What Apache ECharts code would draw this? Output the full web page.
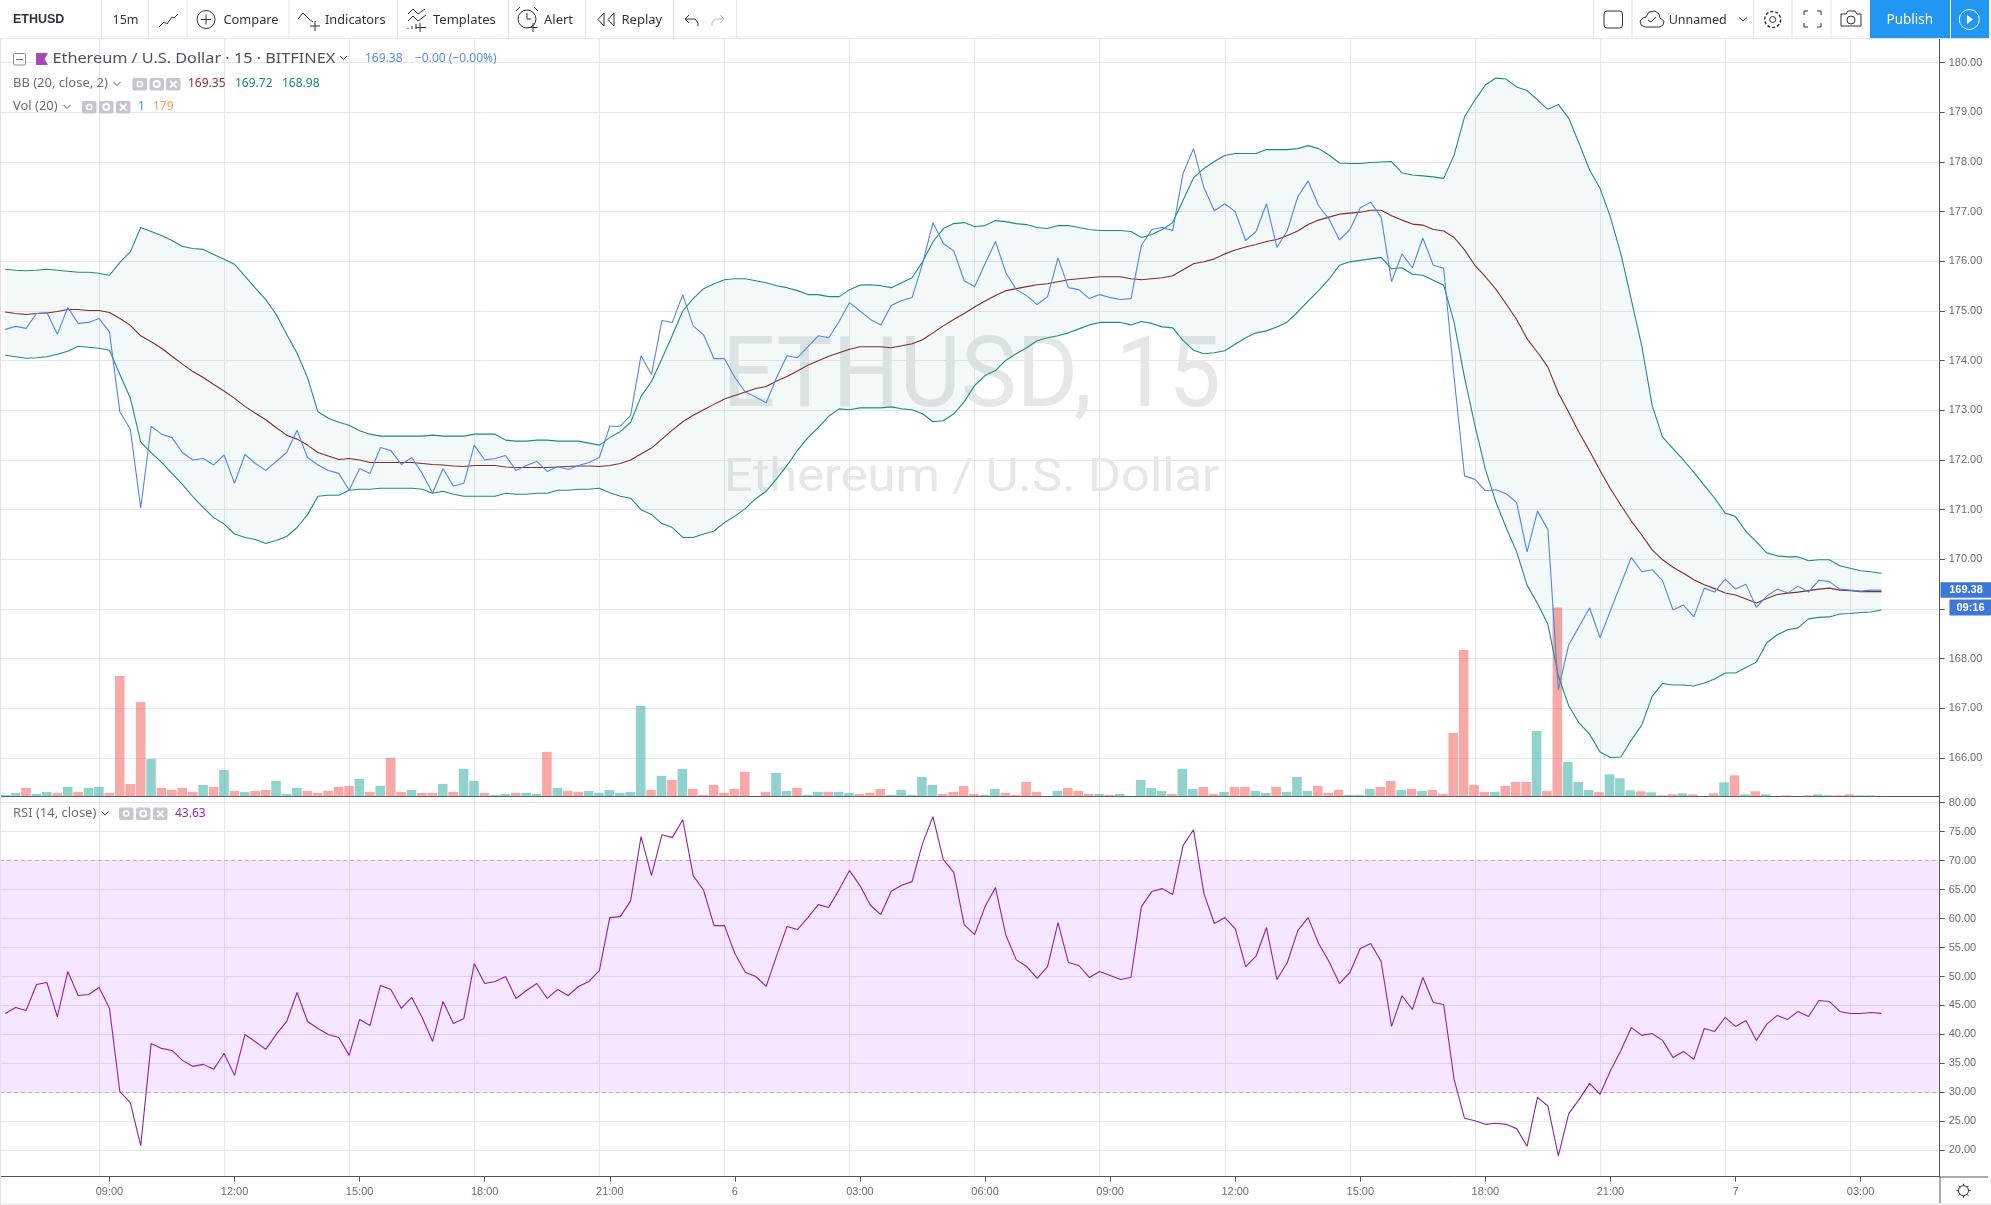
<!DOCTYPE html>
<html><head><meta charset="utf-8">
<style>html,body{margin:0;padding:0;background:#fff}#c{width:1991px;height:1205px}</style>
<script src="https://cdn.jsdelivr.net/npm/echarts@6/dist/echarts.min.js"></script>
</head><body><div id="c"></div>
<script>
const close = [174.63,174.69,174.65,174.95,174.97,174.53,175.07,174.75,174.77,174.85,
174.58,172.97,172.62,171.03,172.68,172.52,172.45,172.15,172.00,172.03,
171.90,172.10,171.53,172.11,171.93,171.79,171.97,172.15,172.60,172.05,
171.90,171.79,171.73,171.39,171.83,171.73,172.25,172.19,171.91,172.05,
171.73,171.33,171.83,171.47,171.53,172.30,172.00,172.03,172.09,171.79,
171.89,171.97,171.77,171.87,171.81,171.89,171.95,172.05,172.68,172.68,
172.90,174.10,173.72,174.81,174.77,175.33,174.70,174.52,174.04,174.04,
173.66,173.37,173.27,173.15,173.66,174.10,174.06,174.28,174.50,174.46,
174.79,175.17,175.00,174.83,174.72,175.11,175.21,175.27,175.95,176.78,
176.36,176.21,175.61,175.49,175.95,176.40,175.77,175.43,175.31,175.13,
175.29,176.07,175.47,175.43,175.25,175.33,175.27,175.23,175.25,176.32,
176.64,176.68,176.62,177.77,178.27,177.48,177.02,177.16,177.00,176.42,
176.60,177.16,176.28,176.62,177.30,177.62,177.12,176.85,176.43,176.64,
177.08,177.19,176.89,175.59,176.15,175.87,176.47,175.92,175.86,173.66,
171.68,171.61,171.38,171.40,171.32,171.14,170.15,170.97,170.60,167.37,
168.28,168.65,169.02,168.42,168.97,169.50,170.04,169.75,169.79,169.57,
168.98,169.08,168.84,169.42,169.34,169.60,169.40,169.50,169.03,169.26,
169.40,169.32,169.46,169.34,169.58,169.55,169.40,169.38,169.36,169.38,
169.38];
const basis = [174.98,174.95,174.93,174.95,174.96,174.99,175.03,175.03,175.01,175.01,
174.97,174.85,174.71,174.50,174.38,174.25,174.09,173.93,173.78,173.66,
173.52,173.39,173.24,173.08,172.94,172.81,172.65,172.50,172.42,172.30,
172.15,172.08,172.01,172.03,172.00,171.95,171.95,171.95,171.95,171.95,
171.93,171.91,171.90,171.88,171.87,171.89,171.89,171.89,171.86,171.85,
171.85,171.85,171.85,171.86,171.87,171.88,171.88,171.87,171.89,171.93,
172.00,172.12,172.24,172.42,172.60,172.77,172.90,173.01,173.12,173.23,
173.30,173.37,173.44,173.48,173.59,173.68,173.79,173.91,174.00,174.09,
174.16,174.23,174.28,174.28,174.28,174.26,174.30,174.34,174.42,174.56,
174.70,174.83,174.95,175.08,175.20,175.31,175.41,175.45,175.49,175.53,
175.55,175.59,175.63,175.65,175.67,175.69,175.69,175.69,175.65,175.63,
175.65,175.67,175.71,175.83,175.95,175.99,176.05,176.15,176.23,176.29,
176.34,176.40,176.44,176.52,176.61,176.74,176.83,176.89,176.95,176.97,
176.99,177.03,177.03,176.92,176.83,176.75,176.73,176.64,176.61,176.48,
176.23,175.92,175.69,175.44,175.14,174.83,174.44,174.17,173.87,173.35,
172.96,172.55,172.18,171.79,171.42,171.09,170.77,170.49,170.19,169.99,
169.84,169.72,169.59,169.49,169.41,169.32,169.28,169.20,169.12,169.21,
169.29,169.32,169.34,169.37,169.40,169.42,169.38,169.37,169.35,169.35,
169.35];
const upperBand = [175.84,175.82,175.81,175.82,175.84,175.82,175.80,175.78,175.78,175.76,
175.72,175.98,176.19,176.68,176.60,176.52,176.42,176.30,176.26,176.24,
176.14,176.04,175.94,175.70,175.46,175.23,174.93,174.53,174.15,173.66,
172.97,172.84,172.76,172.70,172.59,172.52,172.48,172.48,172.48,172.48,
172.48,172.50,172.48,172.48,172.48,172.52,172.52,172.52,172.40,172.38,
172.38,172.40,172.40,172.38,172.38,172.38,172.34,172.30,172.45,172.57,
172.76,173.28,173.58,174.04,174.51,175.00,175.25,175.45,175.55,175.63,
175.65,175.65,175.61,175.57,175.51,175.47,175.41,175.33,175.33,175.29,
175.29,175.43,175.52,175.53,175.51,175.47,175.57,175.67,175.99,176.39,
176.66,176.76,176.78,176.70,176.72,176.82,176.80,176.76,176.74,176.68,
176.66,176.72,176.72,176.68,176.64,176.62,176.62,176.62,176.60,176.48,
176.54,176.64,176.78,177.23,177.68,177.87,178.01,178.13,178.17,178.17,
178.17,178.25,178.25,178.25,178.27,178.33,178.27,178.14,177.98,177.97,
177.97,177.99,178.00,178.01,177.78,177.74,177.72,177.70,177.67,178.14,
178.91,179.25,179.55,179.69,179.67,179.51,179.44,179.25,179.06,179.16,
178.88,178.37,177.84,177.47,176.89,176.15,175.23,174.30,173.10,172.46,
172.23,172.00,171.75,171.49,171.23,170.93,170.86,170.56,170.35,170.13,
170.07,170.05,170.05,169.97,169.99,169.99,169.87,169.82,169.77,169.75,
169.72];
const lowerBand = [174.11,174.08,174.05,174.06,174.08,174.13,174.19,174.29,174.27,174.25,
174.21,173.72,173.25,172.36,172.15,171.95,171.73,171.51,171.26,171.04,
170.84,170.71,170.51,170.44,170.40,170.32,170.38,170.46,170.64,170.90,
171.27,171.29,171.29,171.39,171.41,171.41,171.43,171.43,171.43,171.43,
171.41,171.33,171.37,171.31,171.27,171.27,171.27,171.27,171.33,171.31,
171.31,171.33,171.33,171.39,171.39,171.41,171.41,171.43,171.34,171.27,
171.23,171.00,170.90,170.72,170.64,170.44,170.44,170.51,170.57,170.74,
170.87,171.02,171.22,171.37,171.62,171.89,172.19,172.45,172.65,172.88,
173.03,173.01,173.05,173.05,173.05,173.07,173.03,173.01,172.93,172.77,
172.79,172.93,173.17,173.50,173.70,173.80,174.01,174.14,174.26,174.40,
174.46,174.50,174.56,174.64,174.72,174.77,174.77,174.77,174.72,174.79,
174.75,174.68,174.66,174.41,174.21,174.14,174.16,174.20,174.33,174.46,
174.56,174.60,174.68,174.78,174.98,175.20,175.41,175.64,175.92,175.99,
176.02,176.05,176.08,175.85,175.87,175.74,175.72,175.62,175.52,174.77,
173.66,172.69,171.81,171.16,170.63,170.15,169.48,169.11,168.69,167.65,
167.05,166.70,166.48,166.12,166.01,166.02,166.36,166.66,167.24,167.50,
167.47,167.47,167.45,167.51,167.59,167.71,167.71,167.82,167.93,168.32,
168.48,168.58,168.62,168.80,168.83,168.84,168.90,168.91,168.93,168.94,
168.98];
const rsi = [43.6,44.66,44.14,48.62,48.97,43.05,50.86,46.72,46.9,48.1,
44.54,30.11,28.22,20.8,38.45,37.59,37.24,35.52,34.48,34.83,
33.97,36.72,32.93,40.0,38.74,37.41,40.0,42.24,47.24,42.24,
41.03,40.0,39.48,36.38,42.59,41.55,48.45,47.76,44.48,46.38,
42.93,38.79,45.69,41.9,42.76,52.24,48.79,49.14,50.0,46.21,
47.59,48.79,46.21,47.76,46.72,48.28,49.14,51.03,60.17,60.34,
63.05,74.14,67.41,74.48,73.97,77.07,67.41,64.89,58.79,58.79,
53.97,50.75,50.0,48.28,53.56,58.62,58.1,60.17,62.41,61.9,
65.0,68.28,65.69,62.3,60.69,64.71,65.75,66.38,72.93,77.59,
70.17,67.99,58.97,57.24,62.07,65.34,57.13,52.87,51.72,49.66,
51.72,59.31,52.41,51.9,49.83,50.86,50.17,49.48,49.83,62.07,
64.66,65.17,64.14,72.59,75.34,64.31,59.14,60.17,58.28,51.72,
53.5,58.45,49.48,52.41,57.93,60.17,55.69,52.59,48.79,50.69,
54.83,55.69,52.59,41.38,46.67,44.31,49.83,45.52,45.17,32.24,
25.52,25.11,24.48,24.66,24.48,23.74,20.69,29.14,27.64,19.02,
26.32,28.79,31.55,29.66,33.74,37.24,41.21,39.83,40.17,38.97,
36.03,37.07,35.69,41.03,40.52,42.93,41.38,42.41,38.97,41.78,
43.28,42.59,43.97,43.1,45.86,45.69,43.97,43.62,43.62,43.79,
43.63];
const volume = [1.7,3.7,8.7,2.7,4.7,3.7,9.7,4.7,8.7,9.7,
3.7,120.7,12.7,94.7,37.7,8.7,6.7,8.7,4.7,11.7,
9.7,26.7,5.7,4.7,5.7,6.7,15.7,2.7,8.7,5.7,
3.7,5.7,9.7,10.7,17.7,4.7,10.7,38.7,4.7,6.7,
3.7,3.7,12.7,4.7,27.7,15.7,3.7,1.7,2.7,3.7,
3.7,2.7,44.7,8.7,5.7,4.7,5.7,3.7,6.7,3.7,
4.7,90.7,6.7,20.7,16.7,27.7,7.7,1.7,11.7,3.7,
7.7,24.7,0,4.7,23.7,5.7,8.7,1.7,4.7,4.7,
4.7,3.7,2.7,3.7,7.7,1.7,6.7,1.7,19.7,11.7,
2.7,4.7,10.7,2.7,1.7,7.7,3.7,1.7,14.7,4.7,
0,5.7,8.7,5.7,2.7,2.7,1.7,2.7,0,16.7,
8.7,5.7,2.7,27.7,7.7,9.7,2.7,4.7,9.7,9.7,
5.7,3.7,9.7,4.7,19.7,5.7,10.7,3.7,6.7,1.7,
1.7,7.7,9.7,15.7,6.7,7.7,5.7,6.7,2.7,63.7,
146.6,11.7,4.7,4.7,10.7,14.7,14.7,65.7,5.7,189,
34.7,14.7,6.5,4.5,22.3,18.3,6.3,5.3,4.3,1.3,
2.3,3.3,2.3,0,3.3,14.3,21.3,2.3,5.3,2.3,
0,1.3,0,1.3,2.3,1.3,1.3,2.3,1.3,1.3,
0.4];
const volumeUp = [1,1,0,1,1,0,1,0,1,1,
0,0,0,0,1,0,0,0,0,1,
0,1,0,1,0,0,1,1,1,0,
0,0,0,0,1,0,1,0,0,1,
0,0,1,0,1,1,0,1,1,0,
1,1,0,1,0,0,1,1,1,1,
1,1,0,1,0,1,0,0,0,0,
0,0,0,0,1,1,0,1,1,0,
1,1,0,0,0,1,1,1,1,1,
0,0,0,0,1,1,0,0,0,0,
0,1,0,0,0,1,0,1,0,1,
1,1,0,1,1,0,0,1,0,0,
1,1,0,1,1,1,0,0,0,1,
1,1,0,0,1,0,1,0,0,0,
0,0,0,1,0,0,0,1,0,0,
1,1,1,0,1,1,1,0,1,0,
0,1,0,0,0,1,0,1,0,1,
0,0,0,0,1,1,0,0,1,1,
1];
const tickIndexes = [10,22,34,46,58,70,82,94,106,118,130,142,154,166,178];
const tickLabels = ['09:00','12:00','15:00','18:00','21:00','6','03:00','06:00','09:00','12:00','15:00','18:00','21:00','7','03:00'];
const barCount = 186;
const categories = Array.from({length: barCount}, (_, i) => {
  const k = tickIndexes.indexOf(i);
  return k >= 0 ? tickLabels[k] : 'bar' + i;
});
const priceTicks = [166,167,168,169,170,171,172,173,174,175,176,177,178,179,180];
const rsiTicks = [20,25,30,35,40,45,50,55,60,65,70,75,80];

const FONT = '"Liberation Sans"', UI = '"Noto Sans"';
const GRID = '#e6e7ec', AXIS = '#53565f', LABEL = '#6a6d76';

const els = [];
function T(x, y, s, size, fill, o) {
  els.push(Object.assign({type:'text', z:50, silent:true, x, y,
    style:{text:s, font:(o&&o.weight||'normal')+' '+size+'px '+(o&&o.family||UI), fill,
      textAlign:(o&&o.align)||'left', textVerticalAlign:'middle', verticalAlign:'middle'}}, o&&o.sx?{scaleX:o.sx}:{}));
}
function R(x, y, w, h, st, o) {
  els.push(Object.assign({type:'rect', z:(o&&o.z)||40, silent:true, shape:{x,y,width:w,height:h,r:(o&&o.r)||0}, style:st}));
}
function L(pts, stroke, w) {
  els.push({type:'polyline', z:45, silent:true, shape:{points:pts}, style:{fill:null, stroke, lineWidth:w||1}});
}
function C(cx, cy, r, st) { els.push({type:'circle', z:45, silent:true, shape:{cx,cy,r}, style:st}); }

// toolbar
R(0,0,1991,38,{fill:'#fff'},{z:30});
L([[0,38.5],[1991,38.5]],'#e2e3ea');
[101.5,148.5,187,289,397.5,508.7,585.7,673.5,736.7,1593.7,1632,1753.7,1792,1831].forEach(x=>L([[x,0],[x,38]],'#e2e3ea'));
L([[0.5,38],[0.5,1205]],'#e2e3ea');
L([[0,1204],[1991,1204]],'#e2e3ea');
const TB = '#2f3241';
T(13,20,'ETHUSD',12.5,TB,{weight:'bold',family:FONT});
T(112.5,20,'15m',12.5,TB);
L([[159,27],[164,22],[167,24],[172,17],[174,18],[178,14]],TB);
C(206,19.5,9,{fill:null,stroke:TB,lineWidth:1});L([[201,19.5],[211,19.5]],TB);L([[206,14.5],[206,24.5]],TB);
T(223.5,20,'Compare',12.8,TB);
L([[298,19],[303,13],[309,19],[313,22]],TB);L([[315,21],[315,31]],TB);L([[310,26],[320,26]],TB);
T(325,20,'Indicators',12.8,TB);
L([[408,14],[413,9],[418,14],[425,9]],TB);L([[408,21],[413,16],[418,21],[426,15]],TB);
L([[408,29],[408,28]],TB);L([[412,29],[412,26]],TB);L([[416,29],[416,24]],TB);L([[420,23],[420,32]],TB);L([[415.5,27.5],[426,27.5]],TB);
T(433,20,'Templates',13,TB);
C(527,19,9,{fill:null,stroke:TB,lineWidth:1});L([[527,13],[527,19],[531,19]],TB);L([[520,7],[516,11]],TB);L([[534,7],[538,11]],TB);L([[533,23],[533,32]],TB);L([[528.5,27.5],[537.5,27.5]],TB);
T(544,20,'Alert',13,TB);
L([[604,13],[598,19.5],[604,26],[604,13]],TB);L([[614,13],[608,19.5],[614,26],[614,13]],TB);
T(621.5,20,'Replay',13,TB);
L([[689,15],[685,19],[689,23]],TB);L([[685,19],[695,19],[698,23],[698,26]],TB);
L([[720,15],[724,19],[720,23]],'#b9bac2');L([[724,19],[715,19],[712,23],[712,26]],'#b9bac2');
R(1604,11,18.5,17,{fill:null,stroke:TB,lineWidth:1},{r:3,z:45});
L([[1645,27],[1641,25],[1640,21],[1643,18],[1646,17],[1649,12],[1655,11],[1659,14],[1660,18],[1664,21],[1663,25],[1660,27],[1645,27]],TB);
L([[1648,20],[1651,22],[1656,17]],TB);
T(1668.7,20,'Unnamed',12.5,TB);
L([[1739,17.5],[1743,21],[1747,17.5]],TB);
C(1772.7,19.5,3,{fill:null,stroke:TB,lineWidth:1});C(1772.7,19.5,8,{fill:null,stroke:TB,lineWidth:1.5,lineDash:[3,2]});
L([[1804,15],[1804,11],[1808,11]],TB);L([[1817,11],[1821,11],[1821,15]],TB);L([[1804,23],[1804,27],[1808,27]],TB);L([[1817,27],[1821,27],[1821,23]],TB);
L([[1841,14],[1846,14],[1848,11],[1855,11],[1857,14],[1861,14],[1861,26],[1841,26],[1841,14]],TB);C(1851,20,4,{fill:null,stroke:TB,lineWidth:1});
R(1870,0,119,38,{fill:'#2196f3'},{z:40});
L([[1950.5,0],[1950.5,38]],'#ffffff');
T(1886.5,20,'Publish',13.5,'#ffffff');
C(1969.3,19.5,10,{fill:null,stroke:'#fff',lineWidth:1});
els.push({type:'polygon',z:45,silent:true,shape:{points:[[1967,15],[1967,24],[1973,19.5]]},style:{fill:'#fff'}});

// legend
function Boxes(xs, y) {
  xs.forEach((x,k)=>{
    R(x,y-6,14.5,12.5,{fill:'#c5c6d0'},{r:2,z:45});
    if(k<2) C(x+7.2,y,k?3:2.6,{fill:null,stroke:'#fff',lineWidth:k?2:1.5});
    else { L([[x+4,y-3],[x+10.5,y+3.5]],'#fff',1.8); L([[x+10.5,y-3],[x+4,y+3.5]],'#fff',1.8); }
  });
}
function Chev(x,y){ L([[x,y-2],[x+3.5,y+1.5],[x+7,y-2]],'#4c525e'); }
const LG = '#6c6f7a';
R(13.5,53.5,12,11.5,{fill:'#fff',stroke:'#8a8d96',lineWidth:1},{r:1,z:45});L([[16,59.5],[23,59.5]],'#6c6f7a');
els.push({type:'polygon',z:45,silent:true,shape:{points:[[36,53],[48,53],[44.5,59],[48,65],[36,65]]},style:{fill:'#ab47bc'}});
T(52.5,59,'Ethereum / U.S. Dollar · 15 · BITFINEX',14,'#4c525e',{sx:1.16});
Chev(340,58);
T(365,59,'169.38',12,'#5b8fe3');T(415,59,'−0.00 (−0.00%)',12,'#5b8fe3');
T(13,84,'BB (20, close, 2)',12,LG,{sx:1.08});Chev(113.5,84);Boxes([132.5,149.5,166],84);
T(188,84,'169.35',12,'#8d3030');T(235,84,'169.72',12,'#178a80');T(282,84,'168.98',12,'#178a80');
T(13,107,'Vol (20)',12,LG,{sx:1.08});Chev(63.5,107);Boxes([82,99,116],107);
T(138,107,'1',12,'#26a69a');T(153,107,'179',12,'#ff9a4d');
T(13,813.5,'RSI (14, close)',12,LG,{sx:1.08});Chev(101.5,813.5);Boxes([119,136,153],813.5);
T(175,813.5,'43.63',12,'#9c27b0');

// lower right corner
L([[1940,1177],[1940,1203]],AXIS);
L([[1940,1177],[1988,1177]],AXIS);
C(1963.5,1190.7,5,{fill:null,stroke:TB,lineWidth:1});
[[0,-7,0,-5],[0,5,0,7],[-7,0,-5,0],[5,0,7,0],[-5,-5,-3.5,-3.5],[3.5,3.5,5,5],[-5,5,-3.5,3.5],[3.5,-3.5,5,-5]].forEach(p=>L([[1963.5+p[0],1190.7+p[1]],[1963.5+p[2],1190.7+p[3]]],TB));

// watermarks
els.push({type:'text',z:-1,silent:true,x:722,y:381,scaleX:0.96,style:{text:'ETHUSD, 15',font:'98px Roboto',fill:'#e6e7e8',textVerticalAlign:'middle',verticalAlign:'middle'}});
els.push({type:'text',z:-1,silent:true,x:724,y:479,scaleX:1.1,style:{text:'Ethereum / U.S. Dollar',font:'46px Roboto',fill:'#e6e7e8',textVerticalAlign:'middle',verticalAlign:'middle'}});

const isTick = i => tickIndexes.includes(i);
const xBase = {type:'category', data:categories, boundaryGap:true,
  axisLine:{show:true, onZero:false, lineStyle:{color:AXIS,width:1}},
  splitLine:{show:true, alignWithLabel:true, interval:(i)=>isTick(i+1), lineStyle:{color:GRID,width:1}},
  splitArea:{show:false}};
const yBase = {type:'value', position:'right', scale:true, offset:0.9,
  axisLine:{show:true,onZero:false,lineStyle:{color:AXIS,width:1}},
  splitLine:{show:true,lineStyle:{color:GRID,width:1}}};

const line = (name,data,color,xi,yi,extra)=>Object.assign({type:'line',name,data,xAxisIndex:xi,yAxisIndex:yi,
  symbol:'none',showSymbol:false,smooth:false,silent:true,lineStyle:{color,width:1.1},itemStyle:{color},z:5},extra||{});

const option = {
  animation:false, backgroundColor:'#ffffff', textStyle:{fontFamily:FONT},
  grid:[{left:-0.8,top:38.5,width:1939.6,height:758.1},
        {left:-0.8,top:797.5,width:1939.6,height:379.2},
        {left:-2.0,top:38.5,width:1939.6,height:758.1}],
  xAxis:[
    Object.assign({},xBase,{gridIndex:0,axisLabel:{show:false},axisTick:{show:false}}),
    Object.assign({},xBase,{gridIndex:1,
      axisTick:{show:true,alignWithLabel:true,interval:(i)=>isTick(i),length:5,lineStyle:{color:AXIS}},
      axisLabel:{show:true,interval:(i)=>isTick(i),color:LABEL,fontSize:11,fontFamily:FONT,margin:10}}),
    {type:'category',data:categories,gridIndex:2,show:false,boundaryGap:true}
  ],
  yAxis:[
    Object.assign({},yBase,{gridIndex:0,min:165.222,max:180.487,
      axisTick:{show:true,length:5,lineStyle:{color:AXIS},customValues:priceTicks},
      axisLabel:{show:true,customValues:priceTicks,color:LABEL,fontSize:11,fontFamily:FONT,margin:9,formatter:v=>Number(v).toFixed(2)}}),
    Object.assign({},yBase,{gridIndex:1,min:15.44,max:80.9,
      axisTick:{show:true,length:5,lineStyle:{color:AXIS},customValues:rsiTicks},
      axisLabel:{show:true,customValues:rsiTicks,color:LABEL,fontSize:11,fontFamily:FONT,margin:9,formatter:v=>Number(v).toFixed(2)}}),
    {type:'value',gridIndex:2,show:false,min:0,max:758,splitLine:{show:false}}
  ],
  series:[
    {type:'bar',name:'Volume',xAxisIndex:2,yAxisIndex:2,barWidth:9.6,silent:true,z:2,
     data:volume.map((v,i)=>({value:v,itemStyle:{color:volumeUp[i]?'rgba(38,166,154,0.5)':'rgba(239,83,80,0.5)'}}))},
    {type:'custom',name:'BB band',xAxisIndex:0,yAxisIndex:0,silent:true,z:3,
     data:upperBand.map((u,i)=>[i,u,lowerBand[i]]),encode:{x:0,y:[1,2]},
     renderItem:(params,api)=>{
       if(params.dataIndex!==0) return null;
       const top=upperBand.map((u,i)=>api.coord([i,u]));
       const bot=lowerBand.map((l,i)=>api.coord([i,l])).reverse();
       return {type:'polygon',shape:{points:top.concat(bot)},style:{fill:'rgba(0,137,123,0.05)'}};
     }},
    line('BB upper',upperBand,'#1f8c83',0,0),
    line('BB lower',lowerBand,'#1f8c83',0,0),
    line('BB basis',basis,'#842b2b',0,0),
    line('Close',close,'#4f88e8',0,0,{z:6,markPoint:{silent:true,animation:false,data:[
      {coord:[180,169.38],symbol:'rect',symbolSize:[51,15.5],symbolOffset:[84.5,0],itemStyle:{color:'#3d78d8'},
       label:{show:true,position:'inside',formatter:'169.38',color:'#fff',fontWeight:'bold',fontSize:11,fontFamily:FONT}},
      {coord:[180,169.38],symbol:'rect',symbolSize:[42,16],symbolOffset:[89,17.5],itemStyle:{color:'#3d78d8'},
       label:{show:true,position:'inside',formatter:'09:16',color:'#fff',fontWeight:'bold',fontSize:11,fontFamily:FONT}}
    ]}}),
    line('RSI',rsi,'#9320a8',1,1,{
      markArea:{silent:true,itemStyle:{color:'rgba(153,21,255,0.1)'},data:[[{yAxis:70},{yAxis:30}]]},
      markLine:{silent:true,symbol:'none',label:{show:false},animation:false,
        lineStyle:{color:'#c0b2c8',type:[4,3],width:1},data:[{yAxis:70},{yAxis:30}]}})
  ],
  graphic:{elements:els}
};
const chart = echarts.init(document.getElementById('c'),null,{renderer:'canvas',width:1991,height:1205});
chart.setOption(option);
</script></body></html>
